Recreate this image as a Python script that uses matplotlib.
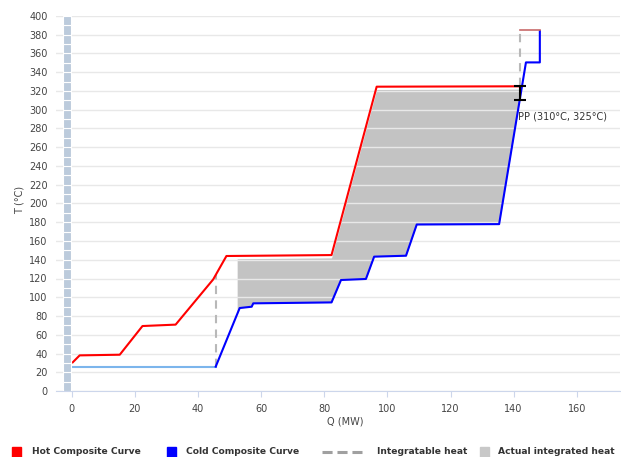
import numpy as np
import matplotlib
matplotlib.use("Agg")
import matplotlib.pyplot as plt
from matplotlib.patches import Rectangle
from matplotlib.lines import Line2D

# composite curves, Q in MW, T in degC
hot_q = [0.3, 2.5, 15.2, 22.4, 32.9, 44.8, 49.0, 82.3, 96.6, 141.9]
hot_t = [30.6, 38.0, 38.7, 69.3, 70.8, 119.0, 144.0, 145.0, 324.6, 325.0]

# hot stream above the pinch
hot_top_q = [141.9, 148.3]
hot_top_t = [385.0, 385.0]

# cold utility part (light blue) then the cold composite
cold_util_q = [0.0, 45.6]
cold_util_t = [26.0, 26.0]
cold_q = [45.6, 53.2, 57.0, 57.5, 82.3, 85.3, 93.2, 95.8, 105.9, 109.3, 135.4, 143.9, 148.3, 148.3]
cold_t = [26.0, 88.5, 89.9, 93.5, 94.5, 118.4, 119.5, 143.3, 144.3, 177.6, 178.0, 350.5, 350.5, 384.0]

# integratable heat limits (dashed)
integ_q = [45.6, 141.9]
integ_t_low = [26.0, 325.0]
integ_t_high = [124.0, 385.0]

# actual integrated heat region
area_q_start = 52.4
area_q_end = 142.6
area_offset = 3.0

# pinch point
pp_q = 141.9
pp_cold = 310
pp_hot = 325

x_ticks = [0, 20, 40, 60, 80, 100, 120, 140, 160]
y_ticks = list(range(0, 401, 20))

fig = plt.figure(figsize=(6.21, 4.57), dpi=100)
ax = fig.add_axes([56 / 621, 1 - 391 / 457, (620 - 56) / 621, (391 - 16) / 457])

ax.set_xlim(-5, 173.7)
ax.set_ylim(0, 400)

# temperature scale bar on the left
seg_bottoms = np.arange(0, 400, 10)
ax.bar(-1.55, 10, bottom=seg_bottoms, width=2.5, color="#bccbdc",
       edgecolor="white", linewidth=0.8, zorder=3)

# shaded integrated heat between the curves
qq = np.union1d(np.linspace(area_q_start, area_q_end, 600), cold_q)
qq = qq[(qq >= area_q_start) & (qq <= area_q_end)]
upper = np.interp(qq, hot_q, hot_t) - area_offset
lower = np.interp(qq, cold_q, cold_t)
ax.fill_between(qq, lower, upper, where=upper >= lower, color="#c3c3c3",
                linewidth=0, zorder=1)

for q, t0, t1 in zip(integ_q, integ_t_low, integ_t_high):
    ax.plot([q, q], [t0, t1], color="#b8b8b8", lw=1.5,
            linestyle=(0, (4, 3)), zorder=2)

ax.plot(cold_util_q, cold_util_t, color="#7cb5ec", lw=1.5, zorder=2)
ax.plot(cold_q, cold_t, color="#0000ff", lw=1.5, zorder=2)
ax.plot(hot_q, hot_t, color="#ff0000", lw=1.5, zorder=2)
ax.plot(hot_top_q, hot_top_t, color="#c86a6a", lw=1.2, zorder=2)

# pinch marker
ax.errorbar([pp_q], [(pp_cold + pp_hot) / 2], yerr=[(pp_hot - pp_cold) / 2],
            fmt="none", ecolor="black", elinewidth=1.5, capsize=4,
            capthick=1.5, zorder=4)
ax.text(pp_q - 0.4, 293, "PP ({}°C, {}°C)".format(pp_cold, pp_hot),
        fontsize=7, color="#333333", va="center", ha="left")

ax.set_axisbelow("line")
ax.grid(axis="y", color="#e8e8e8", linewidth=1)
ax.set_xticks(x_ticks)
ax.set_yticks(y_ticks)
ax.tick_params(axis="x", length=4, color="#ccd6eb", labelsize=7,
               labelcolor="#444444", pad=5)
ax.tick_params(axis="y", length=0, labelsize=7, labelcolor="#444444", pad=6)
for side in ["top", "right", "left"]:
    ax.spines[side].set_visible(False)
ax.spines["bottom"].set_color("#ccd6eb")

fig.text(20 / 621, 1 - 200 / 457, "T (°C)", rotation=90, fontsize=7,
         color="#444444", ha="center", va="center")
fig.text(345 / 621, 1 - 421 / 457, "Q (MW)", fontsize=7, color="#444444",
         ha="center", va="center")

# legend row
def fx(px):
    return px / 621

def fy(py):
    return 1 - py / 457

leg_y = 451.5
legend_items = [
    ("patch", "#ff0000", 12, 32, "Hot Composite Curve"),
    ("patch", "#0000ff", 166.5, 185.5, "Cold Composite Curve"),
    ("dash", "#a0a0a0", 322, 377, "Integratable heat"),
    ("patch", "#c8c8c8", 479.5, 498, "Actual integrated heat"),
]
for kind, col, hx, tx, label in legend_items:
    if kind == "patch":
        fig.add_artist(Rectangle((fx(hx), fy(456.5)), 9 / 621, 10 / 457,
                                 transform=fig.transFigure, color=col))
    else:
        fig.add_artist(Line2D([fx(hx), fx(hx + 40)], [fy(leg_y), fy(leg_y)],
                              transform=fig.transFigure, color=col, lw=2.2,
                              linestyle=(0, (3.3, 1.6))))
    fig.text(fx(tx), fy(leg_y), label, fontsize=6.6, fontweight="bold",
             color="#333333", ha="left", va="center")

fig.savefig("out.png", dpi=100)
